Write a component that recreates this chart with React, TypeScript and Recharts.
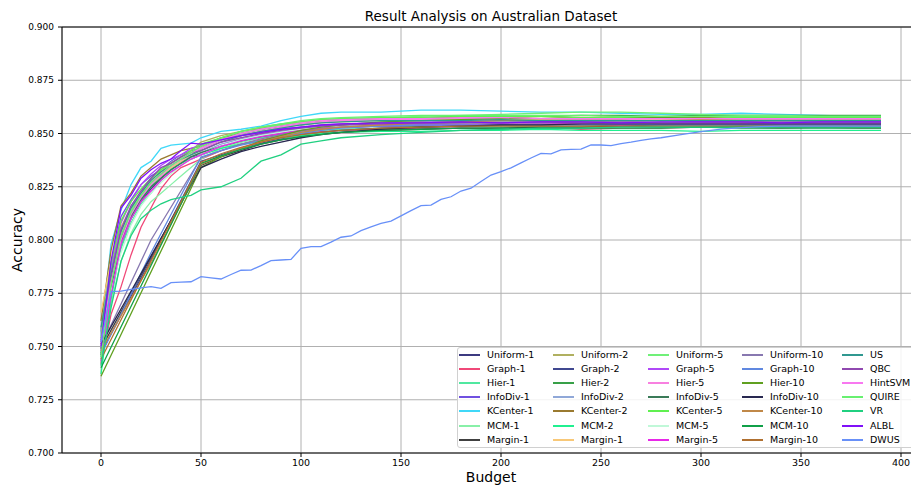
import React from "react";
import { LineChart, Line, XAxis, YAxis, CartesianGrid, ReferenceLine } from "recharts";

// budget grids
const xsDense = [0, 5, 10, 15, 20, 25, 30, 35, 40, 45, 50, 60, 70, 80, 90, 100, 110, 120, 140, 160, 180, 200, 220, 240, 260, 280, 300, 320, 340, 360, 380, 390];
const xsStraight = [0, 50, 60, 70, 80, 90, 100, 110, 120, 140, 160, 180, 200, 220, 240, 260, 280, 300, 320, 340, 360, 380, 390];
const xsKink = [0, 25, 50, 60, 70, 80, 90, 100, 110, 120, 140, 160, 180, 200, 220, 240, 260, 280, 300, 320, 340, 360, 380, 390];
const xsDWUS = [0, 5, 10, 15, 20, 25, 30, 35, 40, 45, 50, 55, 60, 65, 70, 75, 80, 85, 90, 95, 100, 105, 110, 115, 120, 125, 130, 135, 140, 145, 150, 155, 160, 165, 170, 175, 180, 185, 190, 195, 200, 205, 210, 215, 220, 225, 230, 235, 240, 245, 250, 255, 260, 265, 270, 275, 280, 290, 300, 310, 320, 330, 340, 350, 360, 370, 380, 390];

// accuracy values in thousandths
const uniform1 = [752, 778, 800, 810, 818, 824, 829, 833, 836, 839, 840, 844, 846.5, 848.5, 850, 851.5, 852.5, 853, 853.5, 854, 854.5, 854, 854.5, 855, 854, 854.5, 854.5, 855, 854.5, 854, 854.5, 854.5];
const graph1 = [742, 765, 778, 793, 806, 815, 824, 830, 834, 836, 838, 842, 845, 847, 849, 850, 851, 851.5, 852, 852.5, 852.5, 852, 853, 852, 852.5, 852.5, 853, 853, 852.5, 853, 852.5, 852.5];
const hier1 = [745, 775, 796, 808, 817, 822, 828, 832, 835, 838, 840, 843, 846, 848, 849.5, 850.5, 851.5, 852, 852.5, 853, 853.5, 853, 853.5, 853, 854, 853.5, 853.5, 854, 853.5, 853.5, 853.5, 853.5];
const infodiv1 = [757, 788, 811, 819, 826, 830, 833, 837, 840, 842, 843, 847, 849, 850.5, 852, 853, 853.5, 854, 854.5, 855, 855.5, 855, 855.5, 856, 855.5, 855, 855.5, 855.5, 856, 855.5, 855.5, 855.5];
const kcenter1 = [755, 798, 814, 826, 834, 837, 843, 844.5, 845, 845.5, 848, 851, 852, 853.5, 856, 858, 859.5, 860, 860, 861, 861, 860.5, 860, 860, 859.5, 859, 859, 859.5, 859, 858.5, 858, 858];
const mcm1 = [744, 770, 790, 803, 812, 818, 822, 826, 830, 834, 838, 843, 846, 848.5, 850.5, 852, 853, 853.5, 854.5, 855, 855.5, 855.5, 856, 856.5, 856, 856, 856.5, 856, 856, 856, 856, 856];
const margin1 = [749, 835, 839, 842, 845, 847, 848.5, 850, 850.5, 851.5, 852, 852.5, 852.5, 853, 853, 853.5, 853, 853, 853.5, 853, 853, 853, 853];
const uniform2 = [758, 787, 806, 815, 822, 828, 832, 836, 839, 842, 846, 849, 851, 852.5, 854, 855.5, 856, 856.5, 857, 857.5, 857.5, 857.5, 858, 857.5, 858, 857.5, 857.5, 858, 857.5, 857.5, 857.5, 857.5];
const graph2 = [747, 791, 837, 840, 843, 845.5, 847.5, 849.5, 850.5, 851.5, 852.5, 853, 853.5, 854, 854, 854.5, 854, 854, 854, 854.5, 854, 854, 854, 854];
const hier2 = [749, 780, 801, 812, 820, 826, 831, 834, 837, 840, 843, 847, 850, 852, 853.5, 855, 856, 856.5, 857, 857.5, 858, 858, 858, 858.5, 858.5, 858, 858.5, 858.5, 858.5, 858.5, 858.5, 858.5];
const infodiv2 = [756, 786, 804, 814, 821, 827, 831, 834, 837, 839, 841, 845, 847.5, 849.5, 851, 852.5, 853.5, 854, 854.5, 855, 855, 855.5, 855, 855, 855.5, 855, 855, 855, 855.5, 855, 855, 855];
const kcenter2 = [762, 795, 816, 822, 830, 834, 838, 840, 842, 843, 844, 848, 850, 852, 853.5, 855, 856, 856.5, 857, 857, 857.5, 857.5, 857, 857.5, 857, 857, 857.5, 857, 857, 857.5, 857, 857];
const mcm2 = [737, 772, 797, 810, 819, 825, 830, 833, 836, 838, 840, 843, 845, 846.5, 848, 849, 850, 850.5, 851, 851, 851.5, 851.5, 852, 851.5, 851.5, 851.5, 851, 851.5, 851.5, 851.5, 851.5, 851.5];
const margin1b = [766, 790, 806, 815, 821, 826, 830, 834, 837, 840, 842, 846, 849, 851, 852.5, 854, 855, 855.5, 856, 856, 856.5, 856.5, 856.5, 857, 856.5, 856.5, 856.5, 856.5, 856.5, 856.5, 856.5, 856.5];
const uniform5 = [747, 781, 802, 814, 823, 829, 833, 836, 839, 841, 843, 847, 850, 852, 854, 855.5, 856.5, 857, 857.5, 858, 858.5, 859, 859.5, 860, 860, 859.5, 859, 858.5, 858.5, 858, 858, 858];
const graph5 = [748, 785, 808, 818, 826, 831, 835, 838, 840, 843, 844.5, 847, 849, 851, 852, 853, 854, 854.5, 855, 855.5, 855.5, 856, 856, 855.5, 855.5, 856, 855.5, 855.5, 855.5, 855.5, 855.5, 855.5];
const hier5 = [751, 783, 803, 815, 823, 828, 830, 835, 838, 841, 843, 846, 849, 851, 853, 854.5, 855.5, 856, 856.5, 856.5, 857, 857, 857, 856.5, 856.5, 857, 856.5, 856.5, 856.5, 856.5, 856.5, 856.5];
const infodiv5 = [746, 777, 799, 811, 819, 825, 829, 833, 836, 839, 841, 844, 846.5, 848.5, 850, 851.5, 852.5, 853, 853.5, 853.5, 854, 854, 854.5, 854, 854, 854, 854.5, 854, 854, 854, 854, 854];
const kcenter5 = [754, 789, 809, 818, 824, 829, 833, 836, 839, 842, 845, 848, 851, 853, 854.5, 855.5, 856.5, 857, 857.5, 857.5, 858, 858, 858, 857.5, 857.5, 857.5, 858, 857.5, 857.5, 857.5, 857.5, 857.5];
const mcm5 = [750, 776, 794, 807, 816, 822, 827, 831, 835, 838, 840, 844, 847, 849, 850.5, 852, 853, 853.5, 854, 854.5, 854.5, 855, 855, 855, 855, 855.5, 855, 855, 855, 855, 855, 855];
const margin5 = [743, 774, 798, 810, 818, 823, 828, 832, 835, 838, 840, 844, 846.5, 848.5, 850, 851.5, 852.5, 853, 853.5, 854, 854, 854.5, 854.5, 854.5, 854, 854.5, 854.5, 854.5, 854.5, 854.5, 854.5, 854.5];
const uniform10 = [750, 800, 838.5, 842, 845, 847.5, 849.5, 851, 852, 853, 854, 854.5, 855, 855, 855, 855.5, 855, 855, 855, 855.5, 855, 855, 855, 855];
const graph10 = [746, 794, 839, 842, 844.5, 846.5, 848.5, 850, 851.5, 852.5, 853.5, 854, 854, 854, 854, 854, 854.5, 854, 854, 854, 854, 854, 854, 854];
const hier10 = [736, 834, 839, 843, 846.5, 849, 851.5, 853, 854, 855.5, 856, 856.5, 857, 857, 857, 857, 857.5, 857, 857, 857, 857, 857, 857];
const infodiv10 = [751, 834, 838, 841.5, 844, 846, 848, 849.5, 850.5, 852, 853, 853.5, 854, 854, 854.5, 854.5, 854.5, 854.5, 854.5, 854.5, 854.5, 854.5, 854.5];
const kcenter10 = [748, 789, 835.5, 839.5, 843, 846, 848.5, 850.5, 852, 853, 854, 855, 855.5, 856, 856, 856, 856, 856, 856.5, 856, 856, 856, 856, 856];
const mcm10 = [740, 836, 839.5, 842.5, 845, 847, 848.5, 849.5, 850.5, 851.5, 852, 852.5, 852.5, 852.5, 852.5, 852.5, 852.5, 853, 852.5, 852.5, 852.5, 852.5, 852.5];
const margin10 = [744, 836.5, 840.5, 843.5, 846, 848, 849.5, 850.5, 851.5, 852.5, 853, 853.5, 853.5, 853.5, 853.5, 853.5, 853.5, 853.5, 853.5, 853.5, 853.5, 853.5, 853.5];
const us = [759, 784, 804, 815, 822, 828, 832, 835, 838, 840, 842, 846, 849, 851, 852.5, 854, 855, 855.5, 856, 856, 856, 856.5, 856, 856, 856, 856, 856, 856, 856, 856, 856, 856];
const qbc = [753, 782, 805, 816, 823, 829, 834, 836, 839, 841, 842, 846, 848, 850, 851.5, 852.5, 853.5, 854, 854.5, 855, 855, 855, 855.5, 855, 855, 855, 855, 855, 855, 855, 855, 855];
const hintsvm = [752, 780, 800, 812, 820, 826, 831, 835, 838, 841, 843, 847, 850, 852, 853.5, 855, 856, 856.5, 857, 857, 857.5, 857.5, 857, 857, 857, 857, 857, 857, 857, 857, 857, 857];
const quire = [745, 779, 802, 813, 821, 827, 831, 835, 838, 841, 844, 848, 851, 853, 854.5, 856, 857, 857.5, 858, 858.5, 858.5, 858.5, 858.5, 858.5, 858, 858, 858, 858, 858, 858, 858, 858];
const vr = [741, 768, 790, 802, 810, 814, 817, 819, 820, 821, 823.5, 825, 829, 837, 840, 845, 846.5, 848, 849.5, 850.5, 851.5, 852, 852.5, 852.5, 853, 853, 853, 853, 853, 853, 853, 853];
const albl = [750, 790, 815, 821, 829, 833, 836, 838, 842, 845.5, 845, 847, 849, 850.5, 852, 853, 854, 854.5, 855, 855, 855.5, 855, 855.5, 855.5, 855, 855.5, 855.5, 855.5, 855, 855.5, 855.5, 855.5];
const dwus = [752, 775.8, 776, 776.8, 777.5, 778.1, 777.3, 780, 780.2, 780.4, 782.8, 782.2, 781.7, 783.8, 785.8, 785.9, 788, 790.3, 790.6, 790.9, 796.1, 796.9, 796.9, 799, 801.3, 801.9, 804.4, 806.2, 807.8, 808.9, 811.3, 813.8, 816.1, 816.4, 819.1, 820.3, 823, 824.3, 827.5, 830.5, 832.1, 833.9, 836.2, 838.5, 840.7, 840.4, 842.3, 842.5, 842.7, 844.6, 844.6, 844.3, 845.2, 845.9, 846.8, 847.5, 848, 849.5, 850.9, 852.1, 852.8, 853.2, 853.5, 853.5, 853.5, 853.5, 853.5, 853.5];

const series = [
  { name: "Uniform-1", color: "#3c3a80", xs: xsDense, ys: uniform1 },
  { name: "Graph-1", color: "#f04878", xs: xsDense, ys: graph1 },
  { name: "Hier-1", color: "#50e8a0", xs: xsDense, ys: hier1 },
  { name: "InfoDiv-1", color: "#7050e0", xs: xsDense, ys: infodiv1 },
  { name: "KCenter-1", color: "#40d8f8", xs: xsDense, ys: kcenter1 },
  { name: "MCM-1", color: "#88f0a8", xs: xsDense, ys: mcm1 },
  { name: "Margin-1", color: "#404040", xs: xsStraight, ys: margin1 },
  { name: "Uniform-2", color: "#b0b060", xs: xsDense, ys: uniform2 },
  { name: "Graph-2", color: "#404890", xs: xsKink, ys: graph2 },
  { name: "Hier-2", color: "#38a048", xs: xsDense, ys: hier2 },
  { name: "InfoDiv-2", color: "#90a8d8", xs: xsDense, ys: infodiv2 },
  { name: "KCenter-2", color: "#9a7a30", xs: xsDense, ys: kcenter2 },
  { name: "MCM-2", color: "#20f090", xs: xsDense, ys: mcm2 },
  { name: "Margin-1", color: "#f8c878", xs: xsDense, ys: margin1b },
  { name: "Uniform-5", color: "#70f078", xs: xsDense, ys: uniform5 },
  { name: "Graph-5", color: "#b048f8", xs: xsDense, ys: graph5 },
  { name: "Hier-5", color: "#f880e0", xs: xsDense, ys: hier5 },
  { name: "InfoDiv-5", color: "#3a7a58", xs: xsDense, ys: infodiv5 },
  { name: "KCenter-5", color: "#60f050", xs: xsDense, ys: kcenter5 },
  { name: "MCM-5", color: "#c0f8d8", xs: xsDense, ys: mcm5 },
  { name: "Margin-5", color: "#e828e8", xs: xsDense, ys: margin5 },
  { name: "Uniform-10", color: "#8878b0", xs: xsKink, ys: uniform10 },
  { name: "Graph-10", color: "#6088e0", xs: xsKink, ys: graph10 },
  { name: "Hier-10", color: "#60a020", xs: xsStraight, ys: hier10 },
  { name: "InfoDiv-10", color: "#282850", xs: xsStraight, ys: infodiv10 },
  { name: "KCenter-10", color: "#c08848", xs: xsKink, ys: kcenter10 },
  { name: "MCM-10", color: "#10a048", xs: xsStraight, ys: mcm10 },
  { name: "Margin-10", color: "#b07030", xs: xsStraight, ys: margin10 },
  { name: "US", color: "#309890", xs: xsDense, ys: us },
  { name: "QBC", color: "#9048b0", xs: xsDense, ys: qbc },
  { name: "HintSVM", color: "#f878f0", xs: xsDense, ys: hintsvm },
  { name: "QUIRE", color: "#68f070", xs: xsDense, ys: quire },
  { name: "VR", color: "#20d080", xs: xsDense, ys: vr },
  { name: "ALBL", color: "#8010f8", xs: xsDense, ys: albl },
  { name: "DWUS", color: "#6890f8", xs: xsDWUS, ys: dwus },
];

const xTicks = [0, 50, 100, 150, 200, 250, 300, 350, 400];
const yTicks = [0.7, 0.725, 0.75, 0.775, 0.8, 0.825, 0.85, 0.875, 0.9];

const legendColX = [459, 553, 648, 742, 842];
const legendTextX = [487, 581, 676, 770, 870];

const FONT = "'DejaVu Sans', sans-serif";

export default function App() {
  return (
    <div style={{ position: "absolute", left: 0, top: 0, width: 911, height: 486, overflow: "hidden", background: "#fff", fontFamily: FONT }}>
      <LineChart width={930} height={486} margin={{ top: 27, right: 10, bottom: 0, left: 0 }}>
        <CartesianGrid stroke="#b0b0b0" strokeWidth={1} />
        <XAxis
          type="number"
          dataKey="x"
          domain={[-19.5, 409.5]}
          ticks={xTicks}
          allowDataOverflow
          height={33}
          tickSize={4}
          tickMargin={2}
          stroke="#000"
          tick={{ fill: "#000", fontSize: 9.5, fontFamily: FONT }}
        />
        <YAxis
          type="number"
          domain={[0.7, 0.9]}
          ticks={yTicks}
          allowDataOverflow
          width={62}
          tickSize={4}
          tickMargin={4}
          stroke="#000"
          tickFormatter={(v: number) => v.toFixed(3)}
          tick={{ fill: "#000", fontSize: 9, fontFamily: FONT }}
        />
        <ReferenceLine y={0.9} stroke="#000" strokeWidth={1} />
        {series.map((s, i) => (
          <Line
            key={i}
            data={s.xs.map((x, j) => ({ x, y: s.ys[j] / 1000 }))}
            dataKey="y"
            type="linear"
            stroke={s.color}
            strokeWidth={1.3}
            dot={false}
            isAnimationActive={false}
            name={s.name}
          />
        ))}
      </LineChart>
      <div style={{ position: "absolute", left: 0, width: 982, top: 8, textAlign: "center", fontSize: 13.5, color: "#000" }}>
        Result Analysis on Australian Dataset
      </div>
      <div style={{ position: "absolute", left: 0, width: 982, top: 469, textAlign: "center", fontSize: 14, color: "#000" }}>
        Budget
      </div>
      <div style={{ position: "absolute", left: 17, top: 240, transform: "translate(-50%, -50%) rotate(-90deg)", fontSize: 14, color: "#000", whiteSpace: "nowrap" }}>
        Accuracy
      </div>
      <div style={{ position: "absolute", left: 457, top: 347, width: 470, height: 101, border: "1px solid #d0d0d0", borderRadius: 3, background: "rgba(255,255,255,0.85)", boxSizing: "border-box" }} />
      {series.map((s, i) => {
        const col = Math.floor(i / 7);
        const row = i % 7;
        const y = 355 + row * 14.1;
        return (
          <React.Fragment key={"lg" + i}>
            <div style={{ position: "absolute", left: legendColX[col], top: y - 1, width: 21, height: 2, background: s.color }} />
            <div style={{ position: "absolute", left: legendTextX[col], top: y - 6, fontSize: 9.5, lineHeight: "12px", color: "#000", whiteSpace: "nowrap" }}>
              {s.name}
            </div>
          </React.Fragment>
        );
      })}
    </div>
  );
}
